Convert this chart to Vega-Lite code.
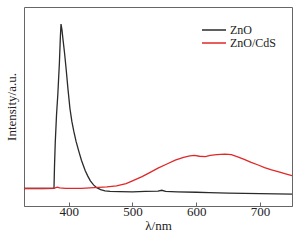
{
  "$schema": "https://vega.github.io/schema/vega-lite/v6.json",
  "autosize": "none",
  "width": 268,
  "height": 199,
  "padding": {"left": 24, "top": 7, "right": 8, "bottom": 34},
  "background": "white",
  "config": {
    "view": {"stroke": "#666", "strokeWidth": 1},
    "font": "Liberation Serif"
  },
  "data": {
    "values": [
      {"nm": 330, "v": 8.8, "s": "ZnO"},
      {"nm": 360, "v": 8.8, "s": "ZnO"},
      {"nm": 377, "v": 8.9, "s": "ZnO"},
      {"nm": 377.8, "v": 20, "s": "ZnO"},
      {"nm": 379, "v": 32, "s": "ZnO"},
      {"nm": 381, "v": 46, "s": "ZnO"},
      {"nm": 383, "v": 56, "s": "ZnO"},
      {"nm": 385.5, "v": 72, "s": "ZnO"},
      {"nm": 387, "v": 85, "s": "ZnO"},
      {"nm": 388, "v": 91.4, "s": "ZnO"},
      {"nm": 389.5, "v": 88.5, "s": "ZnO"},
      {"nm": 391, "v": 84, "s": "ZnO"},
      {"nm": 393.5, "v": 77, "s": "ZnO"},
      {"nm": 396, "v": 69, "s": "ZnO"},
      {"nm": 399, "v": 58.5, "s": "ZnO"},
      {"nm": 402, "v": 49, "s": "ZnO"},
      {"nm": 405, "v": 42.5, "s": "ZnO"},
      {"nm": 408, "v": 37.6, "s": "ZnO"},
      {"nm": 411.5, "v": 32.6, "s": "ZnO"},
      {"nm": 415.6, "v": 27.8, "s": "ZnO"},
      {"nm": 420, "v": 23, "s": "ZnO"},
      {"nm": 426, "v": 17.7, "s": "ZnO"},
      {"nm": 430, "v": 15, "s": "ZnO"},
      {"nm": 434, "v": 12.6, "s": "ZnO"},
      {"nm": 439, "v": 10.6, "s": "ZnO"},
      {"nm": 444, "v": 9.2, "s": "ZnO"},
      {"nm": 450, "v": 8.2, "s": "ZnO"},
      {"nm": 457, "v": 7.6, "s": "ZnO"},
      {"nm": 465, "v": 7.3, "s": "ZnO"},
      {"nm": 480, "v": 7.2, "s": "ZnO"},
      {"nm": 500, "v": 7.1, "s": "ZnO"},
      {"nm": 520, "v": 7.3, "s": "ZnO"},
      {"nm": 540, "v": 7.5, "s": "ZnO"},
      {"nm": 546, "v": 7.9, "s": "ZnO"},
      {"nm": 552, "v": 7.3, "s": "ZnO"},
      {"nm": 570, "v": 7.1, "s": "ZnO"},
      {"nm": 600, "v": 6.9, "s": "ZnO"},
      {"nm": 620, "v": 6.7, "s": "ZnO"},
      {"nm": 650, "v": 6.5, "s": "ZnO"},
      {"nm": 700, "v": 6.2, "s": "ZnO"},
      {"nm": 750, "v": 6.0, "s": "ZnO"},
      {"nm": 330, "v": 8.9, "s": "ZnO/CdS"},
      {"nm": 370, "v": 8.9, "s": "ZnO/CdS"},
      {"nm": 378, "v": 9.0, "s": "ZnO/CdS"},
      {"nm": 382, "v": 9.5, "s": "ZnO/CdS"},
      {"nm": 386, "v": 9.1, "s": "ZnO/CdS"},
      {"nm": 395, "v": 8.9, "s": "ZnO/CdS"},
      {"nm": 420, "v": 8.9, "s": "ZnO/CdS"},
      {"nm": 440, "v": 9.2, "s": "ZnO/CdS"},
      {"nm": 460, "v": 9.6, "s": "ZnO/CdS"},
      {"nm": 475, "v": 10.1, "s": "ZnO/CdS"},
      {"nm": 490, "v": 11.2, "s": "ZnO/CdS"},
      {"nm": 500, "v": 12.6, "s": "ZnO/CdS"},
      {"nm": 515, "v": 14.8, "s": "ZnO/CdS"},
      {"nm": 527, "v": 16.8, "s": "ZnO/CdS"},
      {"nm": 540, "v": 19, "s": "ZnO/CdS"},
      {"nm": 554, "v": 21.1, "s": "ZnO/CdS"},
      {"nm": 567, "v": 23, "s": "ZnO/CdS"},
      {"nm": 580, "v": 24.4, "s": "ZnO/CdS"},
      {"nm": 590, "v": 25.2, "s": "ZnO/CdS"},
      {"nm": 597, "v": 25.4, "s": "ZnO/CdS"},
      {"nm": 605, "v": 25, "s": "ZnO/CdS"},
      {"nm": 614, "v": 24.8, "s": "ZnO/CdS"},
      {"nm": 622, "v": 25.4, "s": "ZnO/CdS"},
      {"nm": 632, "v": 25.8, "s": "ZnO/CdS"},
      {"nm": 645, "v": 26.1, "s": "ZnO/CdS"},
      {"nm": 655, "v": 25.8, "s": "ZnO/CdS"},
      {"nm": 666, "v": 24.6, "s": "ZnO/CdS"},
      {"nm": 676, "v": 23.3, "s": "ZnO/CdS"},
      {"nm": 686, "v": 21.9, "s": "ZnO/CdS"},
      {"nm": 697, "v": 20.6, "s": "ZnO/CdS"},
      {"nm": 707, "v": 19.3, "s": "ZnO/CdS"},
      {"nm": 718, "v": 18.2, "s": "ZnO/CdS"},
      {"nm": 728, "v": 17.3, "s": "ZnO/CdS"},
      {"nm": 740, "v": 16.2, "s": "ZnO/CdS"},
      {"nm": 750, "v": 15.3, "s": "ZnO/CdS"}
    ]
  },
  "mark": {"type": "line", "strokeWidth": 1.3, "clip": true},
  "encoding": {
    "x": {
      "field": "nm", "type": "quantitative",
      "scale": {"domain": [330, 750], "nice": false, "zero": false},
      "axis": {
        "title": "λ/nm", "values": [400, 500, 600, 700],
        "grid": false, "tickSize": -4, "tickColor": "#666", "domainColor": "#666",
        "labelFont": "Liberation Serif", "labelFontSize": 13, "labelColor": "#222",
        "labelPadding": 3,
        "titleFont": "Liberation Serif", "titleFontSize": 13, "titleFontWeight": "normal",
        "titleColor": "#222", "titlePadding": 1
      }
    },
    "y": {
      "field": "v", "type": "quantitative",
      "scale": {"domain": [0, 100], "nice": false},
      "axis": {
        "title": "Intensity/a.u.", "labels": false, "ticks": false, "domain": false, "grid": false,
        "titleFont": "Liberation Serif", "titleFontSize": 13, "titleFontWeight": "normal",
        "titleColor": "#222", "titlePadding": 6
      }
    },
    "color": {
      "field": "s", "type": "nominal",
      "scale": {"domain": ["ZnO", "ZnO/CdS"], "range": ["#2a2a2a", "#e02828"]},
      "legend": {
        "title": null, "orient": "none", "legendX": 183, "legendY": 16,
        "symbolType": "M-2,0H2", "symbolSize": 144, "symbolStrokeWidth": 1.5,
        "symbolFillColor": "transparent",
        "labelFont": "Liberation Serif", "labelFontSize": 12, "labelColor": "#222",
        "rowPadding": 0, "labelOffset": 9
      }
    }
  }
}
